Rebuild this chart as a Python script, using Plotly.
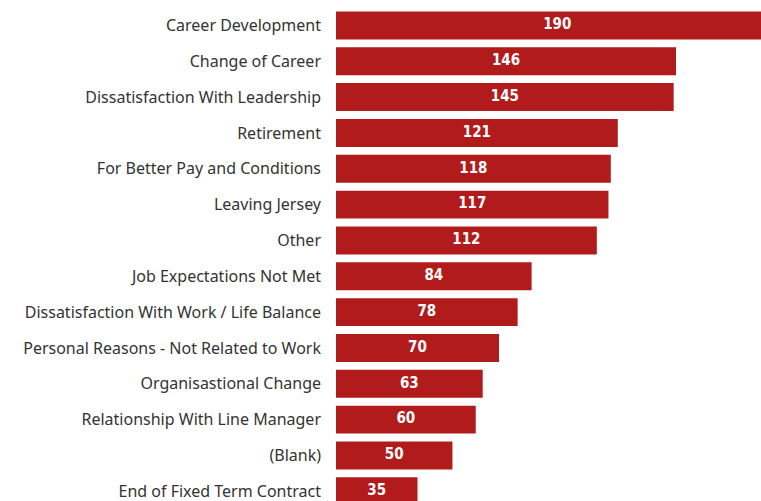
import plotly.graph_objects as go

reasons = [
    "Career Development",
    "Change of Career",
    "Dissatisfaction With Leadership",
    "Retirement",
    "For Better Pay and Conditions",
    "Leaving Jersey",
    "Other",
    "Job Expectations Not Met",
    "Dissatisfaction With Work / Life Balance",
    "Personal Reasons - Not Related to Work",
    "Organisastional Change",
    "Relationship With Line Manager",
    "(Blank)",
    "End of Fixed Term Contract",
]
counts = [190, 146, 145, 121, 118, 117, 112, 84, 78, 70, 63, 60, 50, 35]

BAR_COLOR = "#B11B1B"

fig = go.Figure()
fig.add_trace(go.Bar(
    x=counts,
    y=reasons,
    orientation="h",
    marker=dict(color=BAR_COLOR, line=dict(width=0)),
    hoverinfo="x+y",
))
# value labels centred on each full bar length
fig.add_trace(go.Scatter(
    x=[c / 2 for c in counts],
    y=reasons,
    mode="text",
    text=[str(c) for c in counts],
    textposition="middle center",
    textfont=dict(family="DejaVu Sans Condensed", size=15, color="white", weight="bold"),
    hoverinfo="skip",
    cliponaxis=False,
))

fig.update_layout(
    width=761,
    height=501,
    margin=dict(l=336, r=0, t=0, b=0),
    paper_bgcolor="white",
    plot_bgcolor="white",
    showlegend=False,
    bargap=0.22,
    xaxis=dict(range=[0, 182.5], visible=False, fixedrange=True),
    yaxis=dict(
        range=[13.27, -0.709],
        type="category",
        showgrid=False,
        zeroline=False,
        showline=False,
        ticks="",
        ticklabelstandoff=14,
        tickfont=dict(family="Noto Sans", size=16, color="#333333"),
        fixedrange=True,
    ),
)

fig.write_html("out.html")
